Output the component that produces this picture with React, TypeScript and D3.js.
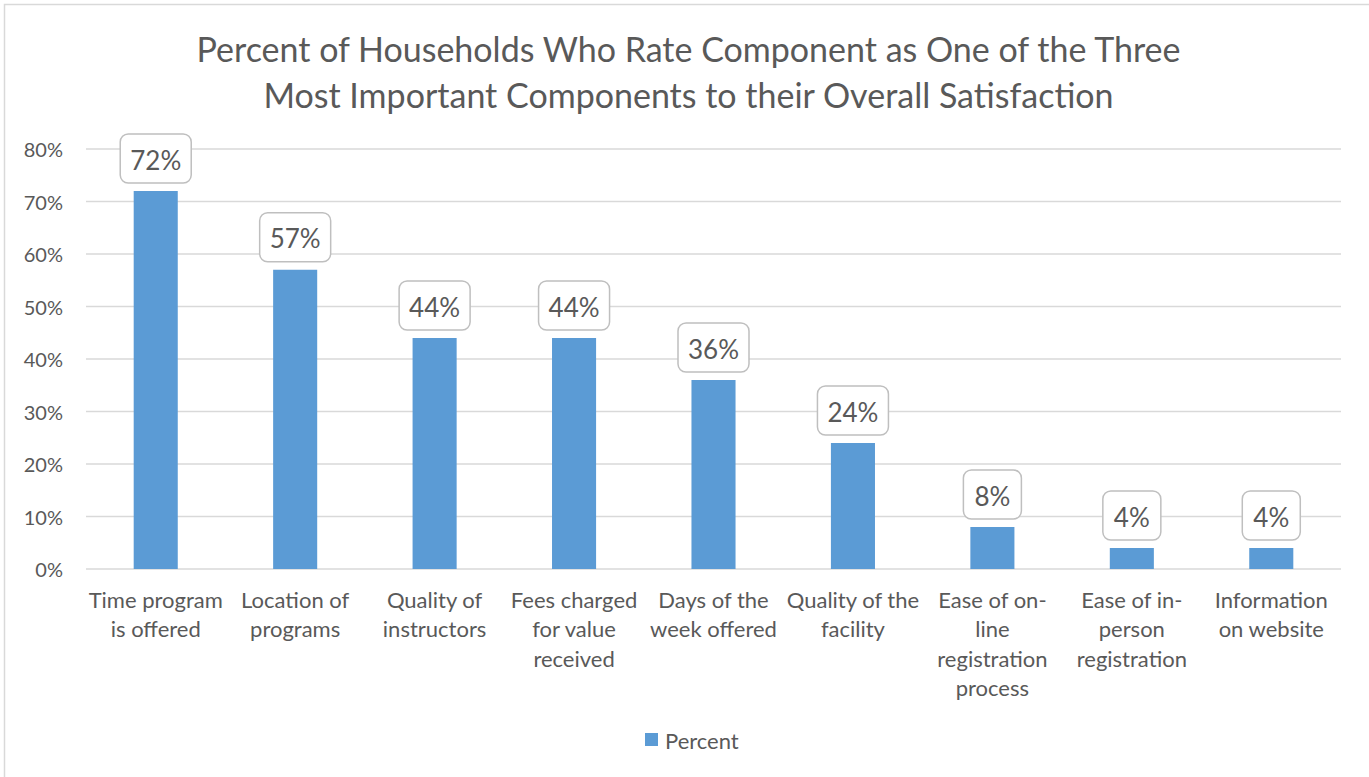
import { FC, useMemo } from "react";
import * as d3 from "d3";

const WIDTH = 1369;
const HEIGHT = 777;
const MARGIN = { top: 149, right: 28, bottom: 208, left: 86 };
const FONT = "Lato, 'Open Sans', sans-serif";
const TEXT = "#595959";
const BAR = "#5b9bd5";
const GRID = "#d9d9d9";

const categories = [
  ["Time program", "is offered"],
  ["Location of", "programs"],
  ["Quality of", "instructors"],
  ["Fees charged", "for value", "received"],
  ["Days of the", "week offered"],
  ["Quality of the", "facility"],
  ["Ease of on-", "line", "registration", "process"],
  ["Ease of in-", "person", "registration"],
  ["Information", "on website"],
];
const percents = [72, 57, 44, 44, 36, 24, 8, 4, 4];
const yTicks = [0, 10, 20, 30, 40, 50, 60, 70, 80];
const titleLines = [
  "Percent of Households Who Rate Component as One of the Three",
  "Most Important Components to their Overall Satisfaction",
];
const seriesName = "Percent";

const App: FC = () => {
  const boundsWidth = WIDTH - MARGIN.left - MARGIN.right;
  const boundsHeight = HEIGHT - MARGIN.top - MARGIN.bottom;

  const keys = categories.map((c) => c.join(" "));

  const xScale = useMemo(() => {
    return d3
      .scaleBand()
      .domain(keys)
      .range([0, boundsWidth])
      .paddingInner(0.684)
      .paddingOuter(0.342);
  }, []);

  const yScale = useMemo(() => {
    return d3.scaleLinear().domain([0, 80]).range([boundsHeight, 0]);
  }, []);

  const grid = yTicks.map((t) => (
    <g key={t}>
      <line
        x1={0}
        x2={boundsWidth}
        y1={yScale(t)}
        y2={yScale(t)}
        stroke={GRID}
        strokeWidth={1.5}
      />
      <text
        x={-23}
        y={yScale(t)}
        textAnchor="end"
        dominantBaseline="central"
        fontSize={20}
        fill={TEXT}
      >
        {t}%
      </text>
    </g>
  ));

  const bars = percents.map((v, i) => {
    const x = xScale(keys[i]);
    if (x === undefined) return null;
    const cx = x + xScale.bandwidth() / 2;
    const label = `${v}%`;
    const boxW = label.length > 2 ? 71 : 58;
    const boxH = 49;
    const boxBottom = yScale(v) - 8;
    return (
      <g key={i}>
        <rect
          x={x}
          y={yScale(v)}
          width={xScale.bandwidth()}
          height={boundsHeight - yScale(v)}
          fill={BAR}
        />
        <rect
          x={cx - boxW / 2}
          y={boxBottom - boxH}
          width={boxW}
          height={boxH}
          rx={8}
          fill="#ffffff"
          stroke="#bfbfbf"
          strokeWidth={1.5}
        />
        <text
          x={cx}
          y={boxBottom - boxH / 2 + 1}
          textAnchor="middle"
          dominantBaseline="central"
          fontSize={26}
          fill={TEXT}
        >
          {label}
        </text>
        <text
          x={cx}
          y={boundsHeight + 30}
          textAnchor="middle"
          dominantBaseline="central"
          fontSize={22}
          fill={TEXT}
        >
          {categories[i].map((line, j) => (
            <tspan key={j} x={cx} dy={j === 0 ? 0 : 29.3}>
              {line}
            </tspan>
          ))}
        </text>
      </g>
    );
  });

  return (
    <div style={{ position: "absolute", left: 0, top: 0 }}>
      <svg width={WIDTH} height={HEIGHT} style={{ display: "block", fontFamily: FONT }}>
        <rect x={0} y={0} width={WIDTH} height={HEIGHT} fill="#ffffff" />
        <rect
          x={4.5}
          y={4.5}
          width={WIDTH + 10}
          height={HEIGHT + 10}
          fill="none"
          stroke={GRID}
          strokeWidth={1.5}
        />
        {titleLines.map((line, i) => (
          <text
            key={i}
            x={WIDTH / 2 + 4}
            y={48 + i * 46}
            textAnchor="middle"
            dominantBaseline="central"
            fontSize={34}
            fill={TEXT}
          >
            {line}
          </text>
        ))}
        <g transform={`translate(${[MARGIN.left, MARGIN.top].join(",")})`}>
          {grid}
          {bars}
        </g>
        <rect x={645} y={733} width={13} height={13} fill={BAR} />
        <text x={665} y={740} dominantBaseline="central" fontSize={22} fill={TEXT}>
          {seriesName}
        </text>
      </svg>
    </div>
  );
};

export default App;
